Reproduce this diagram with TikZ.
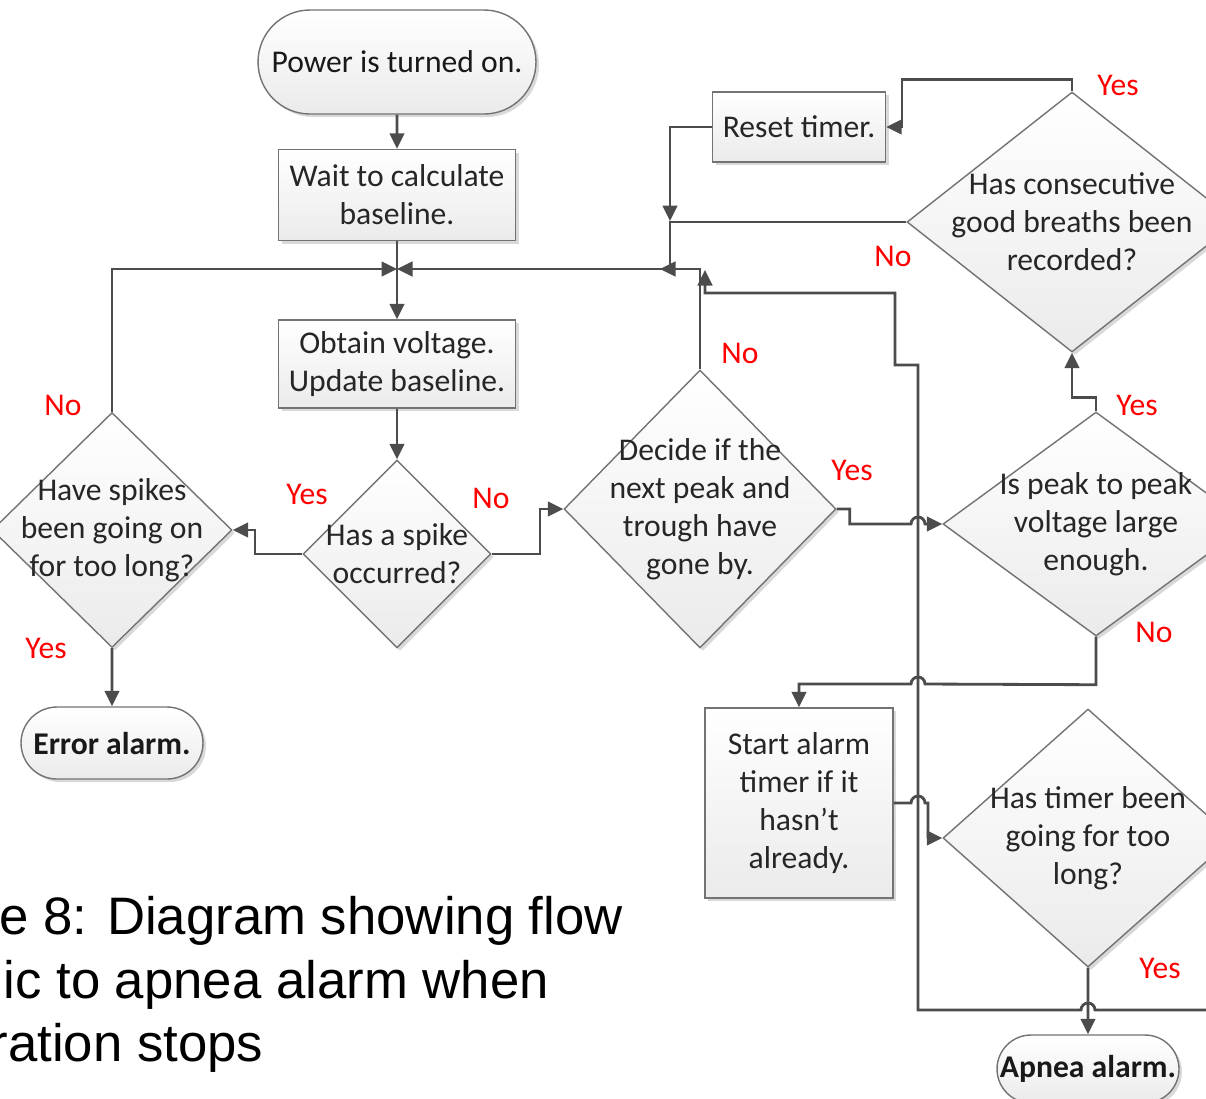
\documentclass[tikz,border=0pt]{standalone}
\usepackage{fontspec}
\setmainfont{Carlito}
\newfontfamily\capfont{Liberation Sans}
\usetikzlibrary{shapes.geometric,shapes.misc,shadows,arrows.meta}

\begin{document}
\begin{tikzpicture}[x=0.1mm,y=-0.1mm,
    font=\fontsize{9}{10.8}\selectfont,
    shadebox/.style={top color=white,bottom color=gray!16,draw=black!55,line width=0.4pt,
      drop shadow={shadow xshift=0.3mm,shadow yshift=-0.3mm,opacity=0.3,fill=gray}},
    process/.style={shadebox,rectangle,align=center,inner sep=1pt,text=black!85},
    terminal/.style={shadebox,rounded rectangle,align=center,inner sep=1pt,text=black!90},
    decision/.style={shadebox,diamond,inner sep=0pt},
    qtext/.style={align=center,text=black!85},
    flow/.style={draw=black!70,line width=0.8pt,-{Triangle[length=1.55mm,width=1.45mm]}},
    link/.style={draw=black!70,line width=0.8pt},
    answer/.style={text=red}]
  \useasboundingbox (0,0) rectangle (1206,1098);
  \clip (0,0) rectangle (1206,1098);

  \node[terminal,minimum width=28.5mm,minimum height=10.4mm] (power) at (397,62) {Power is turned on.};
  \node[process,minimum width=23.7mm,minimum height=9.1mm] (wait) at (397,195) {Wait to calculate\\baseline.};
  \node[process,minimum width=23.7mm,minimum height=8.8mm] (obtain) at (397,364) {Obtain voltage.\\Update baseline.};
  \node[decision,minimum width=18.8mm,minimum height=18.8mm,
    label={[qtext]center:{Has a spike\\occurred?}}] (spike) at (397,554) {};
  \node[decision,minimum width=24mm,minimum height=23.5mm,
    label={[qtext]center:{Have spikes\\been going on\\for too long?}}] (long) at (112,530) {};
  \node[terminal,minimum width=18.9mm,minimum height=7.2mm,font=\fontsize{9}{10.8}\selectfont\bfseries] (error) at (112,743) {Error alarm.};
  \node[decision,minimum width=27.2mm,minimum height=27.8mm,
    label={[qtext]center:{Decide if the\\next peak and\\trough have\\gone by.}}] (decide) at (700,509) {};
  \node[process,minimum width=17.3mm,minimum height=7mm] (reset) at (799,127) {Reset timer.};
  \node[decision,minimum width=33mm,minimum height=26mm,
    label={[qtext]center:{Has consecutive\\good breaths been\\recorded?}}] (cons) at (1072,222) {};
  \node[decision,minimum width=30.6mm,minimum height=22.4mm,
    label={[qtext]center:{Is peak to peak\\voltage large\\enough.}}] (peak) at (1096,524) {};
  \node[process,minimum width=18.8mm,minimum height=19mm] (start) at (799,803) {Start alarm\\timer if it\\hasn’t\\already.};
  \node[decision,minimum width=29mm,minimum height=25.8mm,
    label={[qtext]center:{Has timer been\\going for too\\long?}}] (timer) at (1088,838) {};
  \node[terminal,minimum width=18.9mm,minimum height=6.8mm,font=\fontsize{9}{10.8}\selectfont\bfseries] (apnea) at (1088,1069) {Apnea alarm.};

  \coordinate (J) at (397,269);
  \draw[flow] (power) -- (wait);
  \draw[link] (wait) -- (J);
  \draw[flow] (J) -- (obtain);
  \draw[flow] (obtain) -- (spike);
  \draw[flow] (spike.west) -- (255,554) |- (long.east);
  \draw[flow] (spike.east) -- (540,554) |- (decide.west);
  \draw[flow] (long.north) |- (J);
  \draw[flow] (long.south) -- (error);
  \draw[flow] (decide.north) |- (J);
  \draw[flow] (reset.west) -| (670,221);
  \draw[flow] (cons.west) -| (670,269) -- (660,269);
  \draw[flow] (cons.north) -- ++(0,-12) -| (902,127) -- (reset.east);
  \draw[flow] (peak.north) -- ++(0,-14) -| (cons.south);
  \draw[flow] (decide.east) -- ++(13,0) |- (911,524) arc[start angle=180,end angle=360,radius=7] -- (peak.west);
  \draw[flow] (peak.south) -- ++(0,48) -- (925,684) arc[start angle=0,end angle=-180,radius=7] -| (start.north);
  \draw[flow] (start.east) -- (911,803) arc[start angle=180,end angle=360,radius=7] -- (928,803) |- (timer.west);
  \draw[flow] (timer.south) -- (apnea);
  \draw[flow] (timer.east) -- ++(20,0) |- (1095,1010) arc[start angle=0,end angle=-180,radius=7]
    -- (918,1010) |- (895,365) |- (705,293) -- (705,270);

  \node[answer] (spikeyes) at (307,494) {Yes};
  \node[answer] (spikeno) at (491,498) {No};
  \node[answer] (longno) at (63,405) {No};
  \node[answer] (longyes) at (46,648) {Yes};
  \node[answer] (decideno) at (740,353) {No};
  \node[answer] (decideyes) at (852,470) {Yes};
  \node[answer] (consyes) at (1118,85) {Yes};
  \node[answer] (consno) at (893,256) {No};
  \node[answer] (peakyes) at (1137,405) {Yes};
  \node[answer] (peakno) at (1154,632) {No};
  \node[answer] (timeryes) at (1160,968) {Yes};

  \node[anchor=base west,inner sep=0pt,font=\capfont\fontsize{15}{18}\selectfont] (cap1) at (-1,934) {e 8: Diagram showing flow};
  \node[anchor=base west,inner sep=0pt,font=\capfont\fontsize{15}{18}\selectfont] (cap2) at (3,998) {ic to apnea alarm when};
  \node[anchor=base west,inner sep=0pt,font=\capfont\fontsize{15}{18}\selectfont] (cap3) at (-10,1061) {ration stops};
\end{tikzpicture}
\end{document}
